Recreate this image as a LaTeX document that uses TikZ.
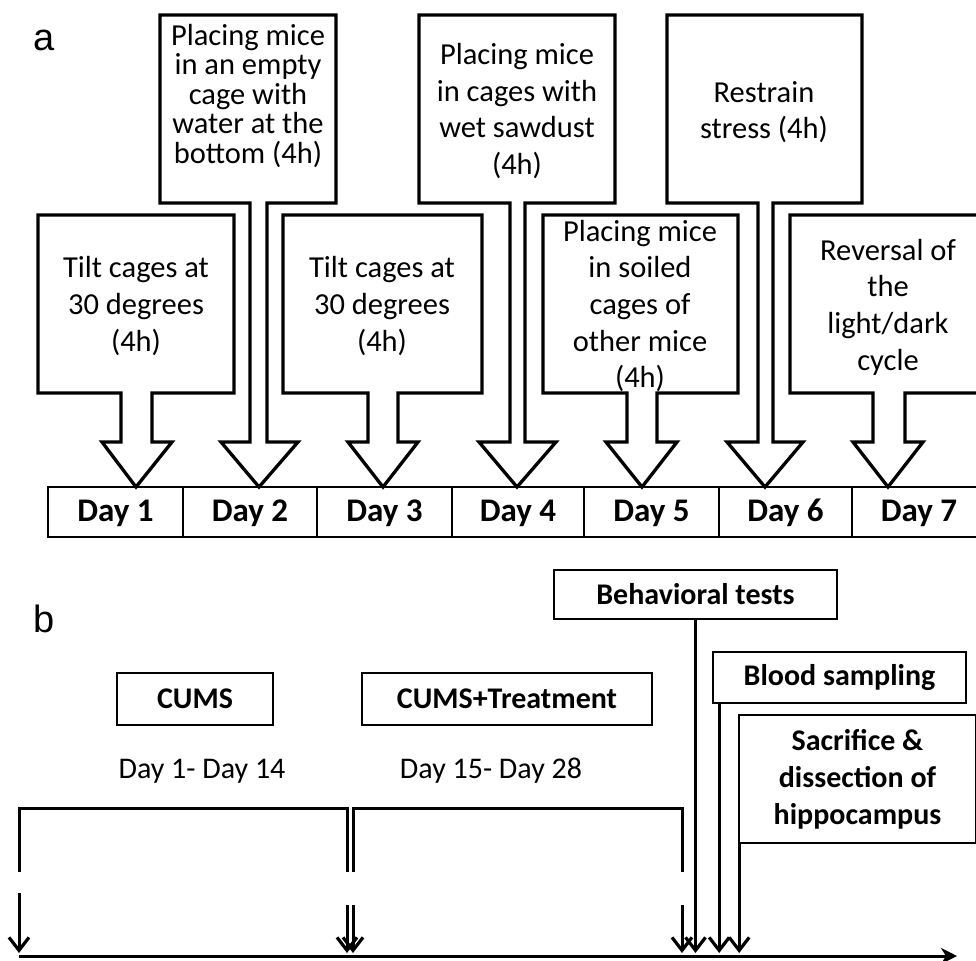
\documentclass[tikz,border=0pt]{standalone}
\usepackage{fontspec}
\setmainfont{Carlito}
\newfontfamily\labfont{Liberation Sans}
\usetikzlibrary{arrows.meta}
\tikzset{
  calloutshape/.style={draw, line width=3.3pt, fill=white, line join=miter},
  ctext/.style={align=center, inner sep=0pt, font=\fontsize{30.5}{36.6}\selectfont},
  daytext/.style={inner sep=0pt, anchor=base, font=\bfseries\fontsize{33}{38}\selectfont},
  tablestyle/.style={draw, line width=1.8pt},
  bbox/.style={draw, line width=1.6pt, fill=white, inner sep=0pt, align=center,
    font=\bfseries\fontsize{30}{37}\selectfont},
  plaintext/.style={inner sep=0pt, font=\fontsize{30}{36}\selectfont},
  bracket/.style={line width=3pt},
  tarrow/.style={line width=3pt, -{Straight Barb[length=13pt,width=20pt,line width=3.2pt]}},
  panellabel/.style={inner sep=0pt, font=\labfont\fontsize{38}{40}\selectfont}
}
% x1 x2 ytop ybot stemL stemR wingL wingR tip
\newcommand{\mycallout}[9]{%
  \draw[calloutshape] (#1,#3) -- (#2,#3) -- (#2,#4) -- (#6,#4) -- (#6,442) -- (#8,442)
    -- (#9,487) -- (#7,442) -- (#5,442) -- (#5,#4) -- (#1,#4) -- cycle;}
\begin{document}
\begin{tikzpicture}[x=1pt,y=-1pt]
\useasboundingbox (0,0) rectangle (976,960);
\clip (0,0) rectangle (976,960);

% panel labels
\node[panellabel] (la) at (44,40) {a};
\node[panellabel] (lb) at (44,619) {b};

% ---------- panel a ----------
\mycallout{38}{234}{215}{393}{121}{152}{102}{172}{136}
\mycallout{160}{336}{15}{203}{250}{267}{221}{298}{259}
\mycallout{283}{482}{215}{393}{368}{398}{348}{418}{383}
\mycallout{419}{615}{15}{203}{510}{525}{479}{556}{517}
\mycallout{543}{738}{215}{393}{627}{657}{606}{677}{642}
\mycallout{667}{862}{15}{203}{758}{773}{727}{803}{765}
\mycallout{790}{990}{215}{393}{873}{905}{853}{923}{888}

\node[ctext] (t1) at (136,306) {Tilt cages at\\30 degrees\\(4h)};
\node[ctext, font=\fontsize{30.5}{29.5}\selectfont] (t2) at (248,96)
  {Placing mice\\in an empty\\cage with\\water at the\\bottom (4h)};
\node[ctext] (t3) at (382,306) {Tilt cages at\\30 degrees\\(4h)};
\node[ctext] (t4) at (517,111) {Placing mice\\in cages with\\wet sawdust\\(4h)};
\node[ctext] (t5) at (640,306) {Placing mice\\in soiled\\cages of\\other mice\\(4h)};
\node[ctext] (t6) at (764,112) {Restrain\\stress (4h)};
\node[ctext] (t7) at (888,307) {Reversal of\\the\\light/dark\\cycle};

% day table
\draw[tablestyle] (48,487) rectangle (1000,537);
\foreach \xx in {183,317,452,584,719,852}{\draw[tablestyle] (\xx,487) -- (\xx,537);}
\node[daytext] (d1) at (115.5,521) {Day 1};
\node[daytext] (d2) at (250,521) {Day 2};
\node[daytext] (d3) at (384.5,521) {Day 3};
\node[daytext] (d4) at (518,521) {Day 4};
\node[daytext] (d5) at (651.5,521) {Day 5};
\node[daytext] (d6) at (785.5,521) {Day 6};
\node[daytext] (d7) at (919,521) {Day 7};

% ---------- panel b ----------
\node[bbox, minimum width=156pt, minimum height=52pt] (cums) at (195,699) {CUMS};
\node[bbox, minimum width=290pt, minimum height=52pt] (cumst) at (507,699) {CUMS+Treatment};
\node[plaintext] (p1) at (202,771) {Day 1- Day 14};
\node[plaintext] (p2) at (491,771) {Day 15- Day 28};

\node[bbox, minimum width=283pt, minimum height=49pt] (beh) at (695.5,594.5) {Behavioral tests};
\node[bbox, minimum width=253pt, minimum height=51pt] (blood) at (839.5,677.5) {Blood sampling};
\node[bbox, minimum width=237pt, minimum height=128pt] (sac) at (857.5,779)
  {Sacrifice \&\\dissection of\\hippocampus};

% brackets
\draw[bracket] (19,872) -- (19,808) -- (347,808) -- (347,872);
\draw[bracket] (353,872) -- (353,808) -- (682,808) -- (682,872);

% baseline
\coordinate (base) at (0,953);
\coordinate (bstart) at (19,956);
\coordinate (bend) at (957,956);
\draw[line width=3pt, -{Stealth[length=16pt,width=16pt,inset=5pt]}] (bstart) -- (bend);

% timeline arrows
\coordinate (a0) at (19,893);
\coordinate (a1) at (347,905);
\coordinate (a2) at (353,905);
\coordinate (a3) at (682,905);
\draw[tarrow] (a0) -- (a0 |- base);
\draw[tarrow] (a1) -- (a1 |- base);
\draw[tarrow] (a2) -- (a2 |- base);
\draw[tarrow] (a3) -- (a3 |- base);
\draw[tarrow] (beh.south) -- (beh.south |- base);
\draw[tarrow] ([xshift=7pt]blood.south west) -- ([xshift=7pt]blood.south west |- base);
\draw[tarrow] ([xshift=1pt]sac.south west) -- ([xshift=1pt]sac.south west |- base);
\end{tikzpicture}
\end{document}
